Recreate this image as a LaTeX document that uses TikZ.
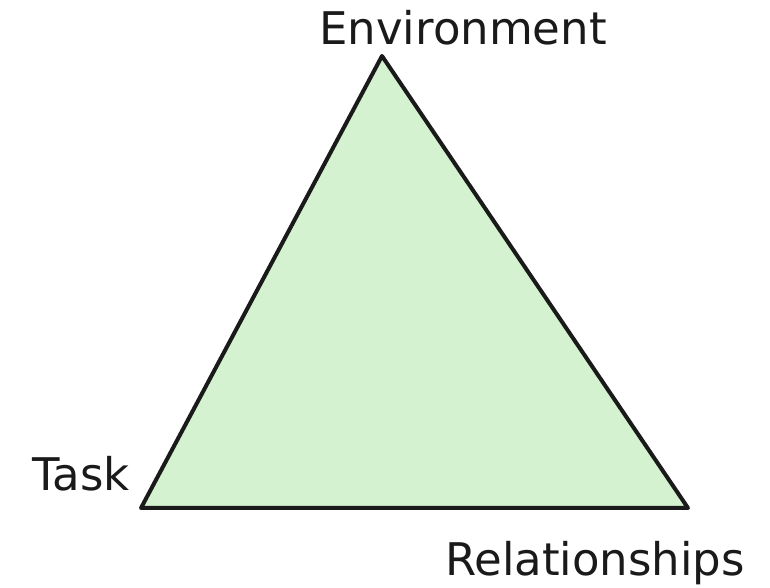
\documentclass[tikz,border=0pt]{standalone}
\usepackage{fontspec}
\setmainfont{DejaVu Sans}
\usetikzlibrary{positioning}
\definecolor{triGreen}{HTML}{D4F1D0}
\definecolor{triEdge}{HTML}{1A1A1A}

\begin{document}
\begin{tikzpicture}[x=1pt, y=1pt,
    corner label/.style={font=\fontsize{45}{54}\selectfont, inner sep=0pt, text=triEdge}]
      \useasboundingbox (0, 0) rectangle (770, 588);

      % Define points
      \coordinate (Env) at (382, 532);
      \coordinate (Task) at (141, 80);
      \coordinate (Rel) at (688, 80);

      % Draw main structure
      \draw[line width=4pt, draw=triEdge, fill=triGreen, line join=round] (Env) -- (Task) -- (Rel) -- cycle;

      % Label corners
      \node[corner label, anchor=base] (envLabel) at (463, 543) {Environment};
      \node[corner label, anchor=base east] (taskLabel) at (130, 97) {Task};
      \node[corner label, anchor=base] (relLabel) at (595, 12) {Relationships};
\end{tikzpicture}
\end{document}
